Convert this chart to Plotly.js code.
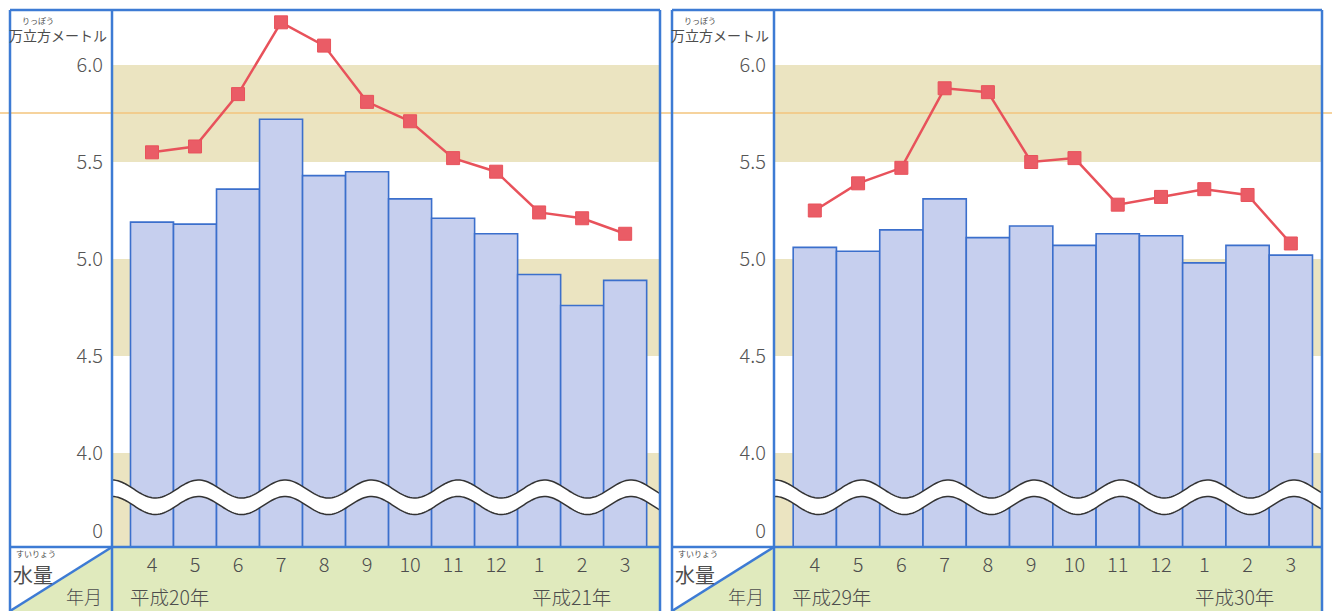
<!DOCTYPE html>
<html>
<head>
<meta charset="utf-8">
<script src="https://cdn.plot.ly/plotly-3.0.1.min.js"></script>
<style>html,body{margin:0;padding:0;background:#fff;}#chart{width:1332px;height:611px;}</style>
</head>
<body>
<div id="chart"></div>
<script>
// ---- data ----
const months = ['4','5','6','7','8','9','10','11','12','1','2','3'];
const h20Bars = [5.19,5.18,5.36,5.72,5.43,5.45,5.31,5.21,5.13,4.92,4.76,4.89];
const h20Line = [5.55,5.58,5.85,6.22,6.10,5.81,5.71,5.52,5.45,5.24,5.21,5.13];
const h29Bars = [5.06,5.04,5.15,5.31,5.11,5.17,5.07,5.13,5.12,4.98,5.07,5.02];
const h29Line = [5.25,5.39,5.47,5.88,5.86,5.50,5.52,5.28,5.32,5.36,5.33,5.08];
const yTickVals = [3.598, 4.0, 4.5, 5.0, 5.5, 6.0];
const yTickText = ['0','4.0','4.5','5.0','5.5','6.0'];
const yearLabelsLeft = ['平成20年','平成21年'];
const yearLabelsRight = ['平成29年','平成30年'];
const unitLabel = '万立方メートル';
const unitRuby = 'りっぽう';
const amountLabel = '水量';
const amountRuby = 'すいりょう';
const dateLabel = '年月';

// ---- geometry helpers ----
const W = 1332, H = 611;
const px = x => x / W;
const py = y => 1 - y / H;
const FONT = 'Noto Sans CJK JP, Noto Sans, sans-serif';
const BLUE = '#3d7bd4';
const GREEN = '#e0eabd';
const KHAKI = '#ebe4c1';
const TXT = '#4d4d4d';

const panels = [
  {ox: 10, lx: 112, x0: 112, x1: 660, xa: 'x', ya: 'y', range: [-0.93, 11.81], years: yearLabelsLeft, yearX: [128, 530]},
  {ox: 672, lx: 774, x0: 775, x1: 1322, xa: 'x2', ya: 'y2', range: [-0.92, 11.72], years: yearLabelsRight, yearX: [790, 1193]}
];
const plotTop = 10, plotBot = 547;
const yRange = [3.5155, 6.2835];

const traces = [
  {type:'bar', x: months, y: h20Bars, xaxis:'x', yaxis:'y',
   marker:{color:'#c6cfee', line:{color:'#3b6fcc', width:1.6}}, hoverinfo:'skip'},
  {type:'scatter', mode:'lines+markers', x: months, y: h20Line, xaxis:'x', yaxis:'y',
   line:{color:'#e8525b', width:2.5}, marker:{symbol:'square', size:13, color:'#ea5c66', line:{color:'#e8525b', width:1}}, hoverinfo:'skip'},
  {type:'bar', x: months, y: h29Bars, xaxis:'x2', yaxis:'y2',
   marker:{color:'#c6cfee', line:{color:'#3b6fcc', width:1.6}}, hoverinfo:'skip'},
  {type:'scatter', mode:'lines+markers', x: months, y: h29Line, xaxis:'x2', yaxis:'y2',
   line:{color:'#e8525b', width:2.5}, marker:{symbol:'square', size:13, color:'#ea5c66', line:{color:'#e8525b', width:1}}, hoverinfo:'skip'}
];

const shapes = [];
const annotations = [];

panels.forEach(p => {
  const xd = p.xa + ' domain';
  // khaki bands
  [[5.5, 6.0], [4.5, 5.0], [yRange[0], 4.0]].forEach(b => {
    shapes.push({type:'rect', xref: xd, yref: p.ya, x0:0, x1:1, y0:b[0], y1:b[1], fillcolor:KHAKI, line:{width:0}, layer:'below'});
  });
  // green bottom row
  shapes.push({type:'rect', xref:'paper', yref:'paper', x0:px(p.lx), x1:px(p.x1), y0:py(H), y1:py(plotBot), fillcolor:GREEN, line:{width:0}, layer:'below'});
  shapes.push({type:'path', xref:'paper', yref:'paper',
    path:`M${px(p.lx)},${py(plotBot)} L${px(p.lx)},${py(H)} L${px(p.ox)},${py(H)} Z`, fillcolor:GREEN, line:{width:0}, layer:'below'});
  // wave break
  const up = [], lo = [];
  for (let x = p.x0; x <= p.x1 + 0.01; x += 2) {
    const yu = 489 - 9 * Math.cos(2 * Math.PI * (x - p.x0) / 86.5);
    up.push([px(x), py(yu)]);
    lo.push([px(x), py(yu + 16.5)]);
  }
  let fill = 'M' + up.map(q => q[0] + ',' + q[1]).join(' L');
  fill += ' L' + lo.slice().reverse().map(q => q[0] + ',' + q[1]).join(' L') + ' Z';
  shapes.push({type:'path', xref:'paper', yref:'paper', path: fill, fillcolor:'#ffffff', line:{width:0}, layer:'above'});
  shapes.push({type:'path', xref:'paper', yref:'paper', path: 'M' + up.map(q => q[0] + ',' + q[1]).join(' L'), line:{color:'#333', width:1.5}, layer:'above'});
  shapes.push({type:'path', xref:'paper', yref:'paper', path: 'M' + lo.map(q => q[0] + ',' + q[1]).join(' L'), line:{color:'#333', width:1.5}, layer:'above'});
  // borders
  const bl = {color: BLUE, width: 2.5};
  shapes.push({type:'line', xref:'paper', yref:'paper', x0:px(p.ox), x1:px(p.x1), y0:py(plotTop), y1:py(plotTop), line:bl, layer:'above'});
  shapes.push({type:'line', xref:'paper', yref:'paper', x0:px(p.ox), x1:px(p.ox), y0:py(plotTop), y1:py(H), line:bl, layer:'above'});
  shapes.push({type:'line', xref:'paper', yref:'paper', x0:px(p.x1), x1:px(p.x1), y0:py(plotTop), y1:py(H), line:bl, layer:'above'});
  shapes.push({type:'line', xref:'paper', yref:'paper', x0:px(p.lx), x1:px(p.lx), y0:py(plotTop), y1:py(H), line:bl, layer:'above'});
  shapes.push({type:'line', xref:'paper', yref:'paper', x0:px(p.ox), x1:px(p.x1), y0:py(plotBot), y1:py(plotBot), line:bl, layer:'above'});
  shapes.push({type:'line', xref:'paper', yref:'paper', x0:px(p.lx), x1:px(p.ox), y0:py(plotBot), y1:py(H), line:bl, layer:'above'});

  // texts
  const c = p.ox;
  const ann = (text, x, y, size, xanchor, weight) => {
    const f = {family:FONT, size, color:TXT};
    if (weight) f.weight = weight;
    annotations.push({text, x: px(x), y: py(y), xref:'paper', yref:'paper', showarrow:false,
      xanchor: xanchor || 'center', yanchor:'middle', font:f});
  };
  ann(unitRuby, c + 28, 20, 8);
  ann(unitLabel, c + 47.5, 35, 14);
  ann(amountRuby, c + 26, 553, 8);
  ann(amountLabel, c + 23, 574, 20);
  ann(dateLabel, c + 74, 596, 18, 'center', 300);
  ann(p.years[0], p.yearX[0], 596, 19.5, 'left', 300);
  ann(p.years[1], p.yearX[1], 596, 19.5, 'left', 300);
});

// faint orange line across the page
shapes.push({type:'line', xref:'paper', yref:'paper', x0:0, x1:1, y0:py(113), y1:py(113), line:{color:'#f3c47c', width:1.5}, layer:'below'});

const xCommon = {type:'category', categoryorder:'array', categoryarray: months, showgrid:false, zeroline:false, showline:false,
  ticks:'', tickfont:{family:FONT, size:20, color:TXT, weight:300}, ticklabelstandoff:4, fixedrange:true};
const yCommon = {range: yRange, tickvals: yTickVals, ticktext: yTickText, showgrid:false, zeroline:false, showline:false,
  ticks:'', tickfont:{family:FONT, size:20, color:'#555', weight:300}, ticklabelstandoff:8, fixedrange:true};

const layout = {
  width: W, height: H,
  margin:{l:0, r:0, t:0, b:0},
  paper_bgcolor:'#ffffff', plot_bgcolor:'rgba(0,0,0,0)',
  showlegend:false, bargap:0,
  xaxis: Object.assign({}, xCommon, {domain:[px(112), px(660)], range: panels[0].range, anchor:'y'}),
  yaxis: Object.assign({}, yCommon, {domain:[py(plotBot), py(plotTop)], anchor:'x'}),
  xaxis2: Object.assign({}, xCommon, {domain:[px(775), px(1322)], range: panels[1].range, anchor:'y2'}),
  yaxis2: Object.assign({}, yCommon, {domain:[py(plotBot), py(plotTop)], anchor:'x2'}),
  shapes, annotations
};

Plotly.newPlot('chart', traces, layout, {staticPlot:true, displayModeBar:false});
</script>
</body>
</html>
